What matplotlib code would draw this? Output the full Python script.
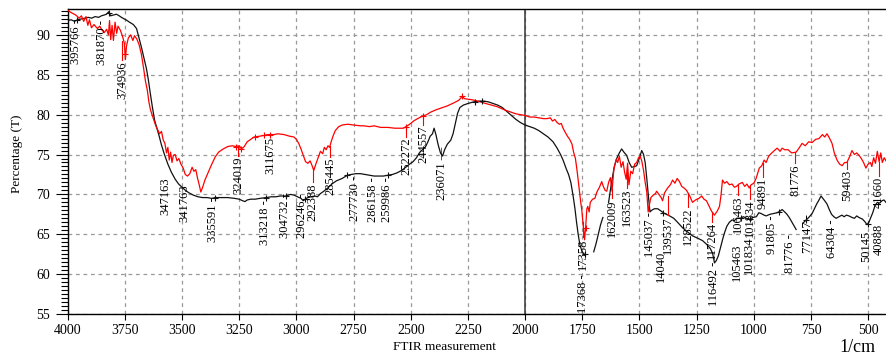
import numpy as np
import matplotlib

matplotlib.use('Agg')
import matplotlib.pyplot as plt
from matplotlib.ticker import MultipleLocator

plt.rcParams['font.family'] = ['Liberation Serif', 'DejaVu Serif']

nan = np.nan

# black spectrum (wavenumber 1/cm, %T)
black_wn = [4000, 3985, 3970, 3957, 3940, 3925, 3910, 3895, 3880, 3865, 3852, 3840, 3830, 3821, 3812,
            3800, 3787, 3775, 3765, 3752, 3740, 3730, 3713, 3699, 3690, 3678, 3666, 3656, 3648, 3640,
            3630, 3620, 3610, 3600, 3590, 3577, 3562, 3547, 3530, 3515, 3500, 3485, 3470, 3450, 3430,
            3410, 3390, 3370, 3355, 3330, 3300, 3270, 3250, 3235, 3225, 3215, 3200, 3180, 3160, 3132,
            3110, 3090, 3070, 3047, 3025, 3010, 2995, 2980, 2970, 2962, 2950, 2935, 2920, 2908, 2895,
            2880, 2863, 2845, 2825, 2800, 2777, 2760, 2740, 2720, 2700, 2680, 2660, 2640, 2620, 2600,
            2580, 2560, 2540, 2522, 2505, 2490, 2475, 2460, 2445, 2435, 2425, 2415, 2405, 2398, 2390,
            2380, 2370, 2361, 2352, 2340, 2325, 2315, 2305, 2295, 2285, 2270, 2250, 2225, 2200, 2180,
            2160, 2140, 2120, 2100, 2080, 2060, 2040, 2020, 2000, 1980, 1960, 1940, 1920, 1900, 1878,
            1860, 1845, 1834, 1820, 1810, 1800, 1790, 1782, 1775, 1768, 1760, 1750, 1742, nan, 1700,
            1690, 1680, 1670, 1660, nan, 1635, 1622, 1610, 1598, 1588, 1578, 1568, 1556, 1545, 1534,
            1522, 1512, 1500, 1490, 1482, 1475, 1468, 1460, 1454, 1447, 1435, 1420, 1405, 1390, 1368,
            1350, 1330, 1311, 1290, 1268, 1245, 1224, 1205, 1190, 1180, 1172, 1164, 1155, 1145, 1135,
            1128, 1118, 1107, 1095, 1085, 1076, 1060, 1045, 1033, 1018, 1005, 989, 978, 968, 955,
            946, 930, 915, 898, 885, 876, 865, 855, 845, 835, 825, 815, nan, 785, 771,
            760, 745, 735, 725, 715, 706, 698, 690, 680, 670, 660, 650, 640, 627, 615,
            605, 595, 584, 570, 560, 550, 540, 525, 515, 505, 497, 490, 480, 470, 460,
            450, 440, 431, 422]
black_t = [91.8, 91.9, 91.7, 91.9, 92.0, 92.1, 92.2, 92.1, 92.3, 92.2, 92.4, 92.5, 92.6, 92.9, 92.4,
           92.5, 92.6, 92.4, 92.2, 92.0, 91.8, 91.6, 91.3, 90.8, 89.8, 88.5, 87.0, 85.8, 84.5, 82.9,
           81.0, 79.3, 78.3, 77.3, 76.2, 75.0, 73.8, 72.8, 71.9, 71.3, 70.9, 70.5, 70.2, 69.9, 69.7,
           69.6, 69.6, 69.5, 69.6, 69.6, 69.6, 69.5, 69.4, 69.2, 69.1, 69.3, 69.4, 69.4, 69.5, 69.6,
           69.7, 69.7, 69.8, 69.8, 70.0, 69.9, 69.7, 69.5, 69.2, 69.4, 69.6, 69.7, 69.8, 69.7, 70.1,
           70.4, 70.8, 71.3, 71.7, 72.0, 72.4, 72.5, 72.6, 72.6, 72.5, 72.4, 72.3, 72.3, 72.3, 72.4,
           72.5, 72.7, 73.0, 73.4, 73.8, 74.1, 74.6, 75.3, 75.7, 76.0, 76.6, 77.3, 77.6, 78.3, 77.5,
           76.2, 75.2, 74.8, 75.6, 76.3, 76.8, 77.6, 78.9, 80.2, 80.9, 81.2, 81.4, 81.6, 81.7, 81.7,
           81.6, 81.4, 81.2, 80.9, 80.4, 79.9, 79.4, 79.0, 78.7, 78.5, 78.3, 78.0, 77.6, 77.2, 76.6,
           75.8, 75.0, 74.3, 73.2, 72.5, 71.5, 69.8, 68.2, 66.5, 65.0, 63.6, 62.8, 62.5, nan, 62.8,
           63.8, 65.0, 66.2, 67.1, nan, 69.0, 71.5, 73.5, 74.6, 75.2, 75.7, 75.3, 74.9, 74.0, 73.4,
           73.5, 73.6, 74.6, 75.5, 75.0, 74.0, 72.0, 69.5, 67.8, 68.0, 68.2, 68.2, 67.9, 67.6, 67.3,
           67.0, 66.4, 65.8, 65.3, 64.8, 64.5, 64.2, 63.7, 63.2, 62.6, 61.4, 61.7, 62.3, 63.4, 64.5,
           65.2, 66.0, 66.5, 66.8, 66.7, 67.0, 67.0, 67.2, 67.0, 66.9, 67.1, 67.2, 67.7, 67.6, 67.4,
           67.3, 67.5, 67.6, 67.7, 67.9, 68.1, 67.8, 67.5, 67.1, 66.6, 66.1, 65.6, nan, 66.4, 66.8,
           67.1, 67.6, 68.2, 68.8, 69.3, 69.8, 69.5, 69.2, 68.8, 68.1, 67.5, 67.2, 67.0, 67.2, 67.4,
           67.2, 67.4, 67.3, 67.1, 67.0, 67.3, 67.1, 66.9, 66.6, 66.2, 66.5, 67.0, 67.7, 68.6, 69.0,
           68.9, 69.2, 69.3, 69.0]

# red spectrum
red_wn = [4000, 3985, 3965, 3950, 3940, 3930, 3920, 3912, 3905, 3896, 3885, 3870, 3860, 3850, 3840,
          3830, 3822, 3817, 3812, 3806, 3800, 3793, 3786, 3780, 3770, 3760, 3752, 3748, 3743, 3735,
          3725, 3715, 3708, 3698, 3688, 3678, 3668, 3660, 3652, 3645, 3638, 3630, 3622, 3615, 3605,
          3598, 3590, 3582, 3575, 3568, 3562, 3556, 3550, 3544, 3538, 3530, 3522, 3514, 3505, 3495,
          3486, 3476, 3466, 3456, 3448, 3440, 3432, 3425, 3418, 3410, 3400, 3385, 3370, 3355, 3340,
          3320, 3300, 3280, 3265, 3250, 3240, 3228, 3215, 3200, 3185, 3160, 3140, 3125, 3100, 3080,
          3054, 3030, 3011, 3000, 2990, 2980, 2970, 2960, 2950, 2940, 2930, 2924, 2915, 2905, 2895,
          2885, 2878, 2870, 2862, 2855, 2848, 2840, 2830, 2815, 2800, 2776, 2750, 2720, 2706, 2680,
          2660, 2632, 2600, 2570, 2550, 2532, 2515, 2500, 2488, 2470, 2450, 2430, 2414, 2390, 2360,
          2340, 2310, 2290, 2275, 2265, 2240, 2220, 2196, 2160, 2122, 2090, 2060, 2040, 2020, 2000,
          1980, 1960, 1940, 1920, 1904, 1890, 1880, 1870, 1860, 1850, 1842, 1834, 1825, 1815, 1805,
          1795, 1788, 1780, 1772, 1765, 1758, 1752, 1746, 1740, 1735, 1730, 1726, 1720, 1715, 1705,
          1695, 1686, 1675, 1665, 1658, 1650, 1643, 1635, 1627, 1620, 1612, 1602, 1595, 1588, 1580,
          1572, 1565, 1558, 1552, 1546, 1538, 1530, 1521, 1512, 1504, 1497, 1490, 1482, 1475, 1468,
          1462, 1456, 1450, 1440, 1430, 1425, 1415, 1405, 1399, 1390, 1377, 1365, 1355, 1345, 1335,
          1325, 1315, 1305, 1294, 1280, 1268, 1255, 1240, 1228, 1218, 1207, 1195, 1185, 1172, 1160,
          1150, 1143, 1137, 1128, 1118, 1107, 1095, 1085, 1076, 1065, 1050, 1040, 1030, 1020, 1012,
          1000, 990, 976, 965, 955, 946, 935, 925, 910, 898, 885, 876, 865, 850, 835,
          815, 800, 789, 775, 760, 745, 730, 715, 700, 690, 680, 670, 658, 648, 636,
          625, 614, 603, 593, 580, 571, 560, 550, 540, 530, 520, 510, 500, 490, 484,
          476, 468, 460, 452, 445, 438, 430, 422]
red_t = [93.1, 92.8, 92.5, 92.1, 92.4, 91.7, 92.3, 91.2, 91.9, 90.9, 91.3, 90.8, 91.1, 90.6, 90.3,
         90.7, 90.0, 91.8, 89.4, 91.2, 89.3, 91.6, 90.2, 91.1, 90.6, 89.8, 88.9, 86.9, 88.6, 89.6,
         90.0, 89.3, 89.9, 89.5, 88.8, 87.6, 85.8, 84.2, 83.1, 81.6, 80.6, 79.9, 79.2, 78.6, 78.0,
         77.6, 77.9, 76.8, 76.4, 75.2, 75.9, 74.3, 75.3, 74.0, 74.9, 75.0, 74.2, 74.5, 73.8, 73.3,
         72.5, 72.3, 72.6, 73.4, 72.9, 73.1, 72.0, 71.2, 70.3, 70.9, 71.8, 72.8, 73.8, 74.7, 75.3,
         75.7, 76.0, 76.1, 76.0, 76.1, 75.7, 76.0, 76.6, 76.9, 77.2, 77.3, 77.4, 77.5, 77.5, 77.6,
         77.5, 77.3, 77.2, 76.9, 76.4, 75.7, 74.9, 74.1, 73.9, 74.2, 73.5, 73.0, 73.8, 74.6, 75.4,
         75.1, 75.9, 75.6, 76.1, 75.9, 76.6, 77.3, 78.0, 78.5, 78.7, 78.8, 78.7, 78.6, 78.6, 78.5,
         78.6, 78.4, 78.4, 78.3, 78.3, 78.3, 78.6, 78.9, 79.2, 79.5, 79.8, 80.0, 80.3, 80.6, 80.9,
         81.1, 81.5, 81.8, 82.3, 82.0, 81.9, 81.8, 81.6, 81.3, 81.0, 80.6, 80.3, 80.1, 80.0, 79.9,
         79.7, 79.7, 79.6, 79.5, 79.5, 79.6, 79.2, 79.4, 79.0, 78.8, 78.9, 78.3, 77.8, 77.3, 76.9,
         76.3, 75.3, 74.5, 72.8, 71.0, 69.3, 68.0, 66.2, 64.3, 66.0, 68.2, 68.5, 67.8, 69.0, 69.4,
         69.5, 70.3, 70.9, 71.6, 71.0, 70.5, 70.4, 71.5, 72.1, 70.4, 73.1, 74.4, 74.0, 74.8, 73.4,
         74.1, 72.8, 71.9, 73.9, 71.2, 72.9, 72.6, 73.8, 74.0, 74.6, 74.8, 74.2, 73.0, 71.5, 70.3,
         67.8, 68.8, 69.6, 69.9, 70.1, 70.4, 70.0, 69.6, 69.2, 70.2, 70.8, 71.2, 71.8, 71.4, 72.0,
         71.6, 71.0, 70.8, 70.5, 69.8, 69.0, 69.3, 69.5, 69.8, 69.4, 69.2, 68.5, 67.9, 67.4, 67.9,
         68.5, 70.0, 71.8, 71.4, 71.6, 71.2, 71.3, 70.9, 71.0, 71.3, 71.5, 71.0, 71.3, 70.8, 71.2,
         71.4, 72.0, 73.3, 73.6, 74.3, 74.0, 74.8, 75.1, 75.5, 75.8, 75.4, 75.8, 75.6, 75.6, 75.2,
         75.3, 75.9, 76.4, 76.1, 76.6, 76.5, 76.9, 77.0, 77.5, 77.2, 77.6, 77.1, 76.4, 75.2, 74.3,
         73.8, 73.6, 74.0, 74.0, 74.8, 75.5, 75.0, 75.2, 74.9, 74.5, 74.0, 73.3, 73.8, 74.0, 73.5,
         74.6, 73.9, 75.4, 74.1, 75.2, 74.0, 74.6, 74.2]

# peak wavenumbers marked with "+" on each curve
black_marks = [3957.66, 3818.70, 3355.91, 3132.18, 3047.32, 2962.46, 2777.30, 2599.86,
               2220.0, 2190.0, 1736.8, 1395.37, 1054.63, 1018.34, 891.0, 771.47, 501.45]
red_marks = [3749.36, 3265.0, 3240.19, 3180.0, 3140.0, 3116.75, 2522.72, 2445.57, 2275.0, 1735.8]

# peak labels: text, position (1/cm), top of text (%T), curve colour
peak_labels = [
    ("395766 -", 3964, 92.0, 'k'), ("381870 -", 3850, 91.9, 'k'), ("374936", 3763, 86.7, 'r'),
    ("347163", 3575, 72.1, 'k'), ("341763", 3491, 71.2, 'k'), ("335591 -", 3364, 69.6, 'k'),
    ("324019", 3255, 74.7, 'r'), ("311675", 3115, 77.2, 'r'), ("313218 -", 3137, 69.3, 'k'),
    ("304732 -", 3050, 70.1, 'k'), ("296246 -", 2976, 70.2, 'k'), ("292388", 2928, 71.4, 'r'),
    ("285445", 2853, 74.6, 'r'), ("277730 -", 2744, 72.3, 'k'), ("286158 -", 2665, 72.1, 'k'),
    ("259986 -", 2604, 72.1, 'k'), ("252272", 2521, 77.1, 'r'), ("244557", 2446, 78.6, 'r'),
    ("236071 \u2014", 2363, 76.0, 'k'), ("17358", 1747, 64.5, 'r'), ("17368 -", 1747, 60.0, 'k'),
    ("162009", 1619, 69.4, 'r'), ("163523", 1553, 70.7, 'r'), ("145037 -", 1453, 67.8, 'k'),
    ("14040", 1405, 62.9, 'k'), ("139537", 1375, 67.3, 'r'), ("128522", 1288, 68.3, 'r'),
    ("117264", 1183, 66.5, 'r'), ("116492 -", 1174, 61.5, 'k'), ("106463", 1069, 69.8, 'r'),
    ("105463", 1073, 63.9, 'k'), ("101834", 1016, 69.3, 'r'), ("101834", 1021, 64.7, 'k'),
    ("94891", 960, 72.1, 'r'), ("91805 -", 920, 67.3, 'k'), ("81776", 819, 73.8, 'r'),
    ("81776 -", 841, 65.0, 'k'), ("77147 -", 763, 67.5, 'k'), ("64304 -", 658, 66.8, 'k'),
    ("59403", 593, 73.1, 'r'), ("50145", 509, 65.4, 'k'), ("40888", 452, 66.3, 'k'),
    ("41660", 452, 72.2, 'r'),
]

fig = plt.figure(figsize=(8.86, 3.58), dpi=100)
ax = fig.add_axes([67.7 / 886, 44 / 358, (886 - 67.7) / 886, 305 / 358])

ax.plot(black_wn, black_t, color='#111111', lw=0.9, zorder=3)
ax.plot(red_wn, red_t, color='#ff0000', lw=0.9, zorder=3)

rw = np.array(red_wn[::-1], dtype=float)
rt = np.array(red_t[::-1], dtype=float)
bw = np.array(black_wn, dtype=float)
bt = np.array(black_t, dtype=float)
ok = ~np.isnan(bw)
bw_i = bw[ok][::-1]
bt_i = bt[ok][::-1]

ax.plot(black_marks, np.interp(black_marks, bw_i, bt_i), '+', color='#111111',
        ms=5, mew=0.8, zorder=4)
ax.plot(red_marks, np.interp(red_marks, rw, rt), '+', color='#ff0000',
        ms=5, mew=0.8, zorder=4)

for txt, x, top, c in peak_labels:
    ax.text(x, top, txt, rotation=90, ha='center', va='top', fontsize=9,
            color='black', clip_on=False, zorder=5)
    if c == 'r':
        yl = np.interp(x, rw, rt)
        if yl > top:
            ax.plot([x, x], [top + 0.1, min(yl, top + 2.5)], color='#ff0000', lw=0.8, zorder=4)

ax.axvline(2000, color='#333333', lw=1.1, zorder=2)

ax.set_xlim(4000, 422)
ax.set_ylim(55, 93.25)
ax.xaxis.set_major_locator(MultipleLocator(250))
ax.yaxis.set_major_locator(MultipleLocator(5))
ax.yaxis.set_minor_locator(MultipleLocator(0.5))
ax.grid(True, which='major', linestyle=(0, (3, 3)), color='#999999', lw=0.9)
ax.set_axisbelow(True)

ax.tick_params(axis='both', which='major', labelsize=10, direction='out', length=4, width=0.8)
ax.tick_params(axis='y', which='major', length=9)
ax.tick_params(axis='y', which='minor', length=5, width=0.8, direction='out')
ax.spines['right'].set_visible(False)
for s in ['left', 'bottom', 'top']:
    ax.spines[s].set_linewidth(1.0)

fig.text(0.019, 0.57, "Percentage (T)", rotation=90, ha='center', va='center', fontsize=9.5)
fig.text(0.502, 0.031, "FTIR measurement", ha='center', va='center', fontsize=9.5)
fig.text(0.968, 0.028, "1/cm", ha='center', va='center', fontsize=13)

fig.savefig('out.png', dpi=100)
plt.close(fig)
